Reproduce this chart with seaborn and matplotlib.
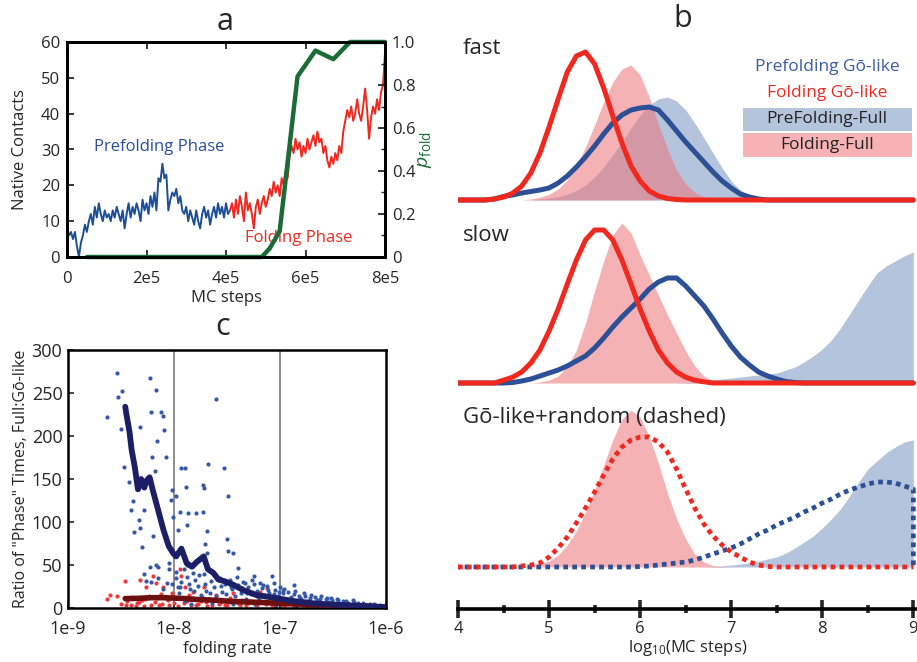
import numpy as np
import matplotlib
matplotlib.use("Agg")
import matplotlib.pyplot as plt
from matplotlib.patches import Rectangle
import seaborn as sns

sns.set_theme(style="ticks")
plt.rcParams["font.family"] = ["Open Sans", "DejaVu Sans"]
plt.rcParams["mathtext.fontset"] = "custom"
plt.rcParams["mathtext.rm"] = "Open Sans"
plt.rcParams["mathtext.it"] = "Open Sans:italic"

# ---------------- data: panel a ----------------
step_a = 5000
t0_pre = 0
contacts_pre = [8, 6, 7, 5, 7, 3, 0, 4, 6, 9, 7, 10, 12, 9, 14, 11, 15, 12, 10, 13,
                11, 12, 10, 13, 11, 14, 12, 10, 13, 8, 12, 15, 11, 14, 12, 15, 13, 10, 16, 13,
                15, 12, 17, 14, 18, 13, 22, 21, 26, 22, 23, 13, 16, 18, 17, 19, 15, 17, 13, 12,
                14, 10, 13, 11, 9, 13, 10, 8, 12, 14, 11, 13, 9, 12, 14, 11, 15, 12, 14, 11,
                15, 12, 13]
t0_fold = 410000
contacts_fold = [13, 15, 11, 16, 12, 17, 14, 10, 18, 13, 15, 12, 8, 14, 16, 12, 15, 17, 14, 16,
                 19, 17, 21, 18, 20, 17, 22, 20, 24, 22, 28, 31, 29, 33, 30, 32, 28, 31, 29, 33,
                 30, 32, 34, 31, 35, 32, 33, 29, 31, 27, 25, 28, 26, 29, 27, 31, 29, 35, 38, 41,
                 39, 42, 38, 40, 44, 40, 38, 42, 47, 41, 33, 39, 42, 40, 44, 41, 46, 48, 57]
pfold_steps = [50000, 490000, 510000, 535000, 580000, 625000, 670000, 712000, 800000]
pfold = [0, 0, 0.04, 0.12, 0.84, 0.96, 0.92, 1.0, 1.0]
a_xticks = [0, 200000, 400000, 600000, 800000]
a_xticklabels = ["0", "2e5", "4e5", "6e5", "8e5"]

# ---------------- data: panel b (heights, arbitrary units) ----------------
b_step = 0.1
fast_fold_go = (4.4, [1, 2.9, 6.8, 14, 27, 47, 73, 101, 128, 144, 148, 136, 112, 84, 57, 34, 19, 9, 4, 1.5, 0.5])
fast_fold_full = (4.8, [1.2, 2.7, 5.7, 11, 20, 34, 53, 75, 98, 118, 131, 135, 125, 103, 76, 51, 30, 16, 7.6, 3.2, 1.2, 0.4])
fast_pre_full = (4.9, [1, 1.8, 3.3, 5.8, 9.6, 15, 23, 33, 45, 58, 72, 85, 95, 101, 103, 99, 90, 77, 62, 47, 32, 19, 10, 4, 1.5, 0.5])
fast_pre_go = (4.4, [1, 3.5, 5, 7, 8.5, 10, 12, 17, 24, 33, 43, 54, 66, 77, 85, 90, 92, 93, 90, 80, 69, 58, 48, 38, 28, 19, 12, 6, 3, 1])

slow_fold_go = (4.5, [2.8, 5.8, 11, 20, 33, 52, 74, 99, 123, 143, 153, 153, 143, 123, 99, 74, 52, 33, 20, 11, 5.8, 2.8, 1.2])
slow_fold_full = (4.9, [1, 3, 7, 17, 33, 60, 92, 122, 148, 160, 150, 128, 108, 88, 68, 50, 32, 17, 7, 2, 0.5])
slow_pre_go = (4.6, [0.5, 2, 4, 7, 10, 13, 17, 22, 27, 35, 45, 56, 66, 75, 84, 94, 101, 105, 105, 97, 87, 77, 64, 50, 37, 26, 18, 11, 7, 4, 1.5, 0.5])
slow_pre_full = (6.5, [0.5, 1, 2, 3, 4, 5, 6, 7, 8, 9, 10, 13, 16, 21, 27, 34, 43, 55, 69, 83, 97, 110, 117, 122, 127, 131])

rand_fold_full = (4.8, [1, 3, 6, 12, 22, 36, 55, 77, 102, 127, 148, 157, 150, 130, 104, 74, 48, 28, 13, 5, 1.5, 0.5])
rand_fold_go = (4.7, [1, 2, 4, 10, 19, 30, 44, 59, 75, 92, 108, 120, 127, 130, 130, 125, 115, 98, 78, 59, 43, 31, 22, 15, 10, 5, 2, 0.5])
rand_pre_go = (6.0, [0.5, 1, 2, 3, 4, 5, 7, 10, 13, 16, 19, 23, 28, 33, 37, 42, 46, 50, 55, 59, 64, 68, 73, 77, 80, 83, 85, 85, 84, 81, 78])
rand_pre_full = (6.8, [0.5, 1, 2, 3, 4, 6, 8, 10, 14, 19, 25, 31, 39, 48, 58, 71, 85, 98, 106, 114, 120, 125, 127])

b_ticks = [4, 5, 6, 7, 8, 9]

# ---------------- data: panel c (log10 folding rate, ratio) ----------------
pre_lx = [-8.63, -8.54, -8.53, -8.49, -8.50, -8.47, -8.42, -8.41, -8.39, -8.38, -8.32, -8.32, -8.33, -8.30,
          -8.28, -8.26, -8.23, -8.22, -8.21, -8.20, -8.17, -8.18, -8.16, -8.17, -8.12, -8.10, -8.09, -8.08,
          -8.15, -8.05, -8.02, -8.03, -8.01, -7.98, -7.96, -7.94, -7.93, -7.90, -7.88, -7.89, -7.87, -7.79,
          -7.73, -7.72, -7.73, -7.69, -7.68, -7.71, -7.74, -7.69, -7.60, -7.53, -7.49, -7.50, -7.49, -7.44,
          -7.40, -7.33, -7.25, -7.19, -7.08, -7.06, -6.97, -6.87, -7.88, -7.82, -7.98, -7.94, -8.23, -8.26,
          -8.07, -8.28, -8.22, -8.15, -8.10, -8.05, -8.02,
          -7.98, -7.95, -7.93, -7.90, -7.88, -7.85, -7.82, -7.80, -7.77, -7.75, -7.72, -7.70, -7.67, -7.65,
          -7.62, -7.60, -7.57, -7.55, -7.52, -7.50, -7.47, -7.45, -7.42, -7.40, -7.37, -7.35, -7.32, -7.30,
          -7.27, -7.25, -7.22, -7.20, -7.17, -7.15, -7.12, -7.10, -7.07, -7.05, -7.02, -7.00, -6.97, -6.95,
          -6.92, -6.90, -6.87, -6.85, -6.82, -6.80, -6.77, -6.75, -6.72, -6.70, -6.67, -6.65, -6.62, -6.60,
          -6.57, -6.55, -6.52, -6.50, -6.45, -6.42, -6.38, -6.35, -6.30, -6.27, -6.22, -6.18, -6.15, -6.10,
          -6.05, -6.02,
          -7.96, -7.91, -7.86, -7.81, -7.76, -7.71, -7.66, -7.61, -7.56, -7.51, -7.46, -7.41, -7.36, -7.31,
          -7.26, -7.21, -7.16, -7.11, -7.06, -7.01, -6.96, -6.91, -6.86, -6.81, -6.76, -6.71, -6.66, -6.61,
          -6.56, -6.51, -6.46, -6.41, -6.36, -6.31, -6.26, -6.21, -6.16, -6.11, -6.06, -7.44, -7.24, -7.04,
          -6.84, -6.64, -7.64, -7.84]
pre_ratio = [222, 273, 245, 252, 208, 164, 147, 114, 125, 88, 93, 211, 102, 71,
             114, 145, 268, 228, 176, 84, 254, 159, 194, 50, 228, 223, 207, 176,
             48, 52, 137, 126, 106, 130, 91, 112, 163, 163, 97, 141, 110, 110,
             143, 139, 112, 89, 168, 75, 58, 64, 243, 163, 130, 80, 66, 64,
             46, 29, 37, 29, 37, 29, 21, 27, 50, 41, 35, 25, 48, 31,
             29, 40, 30, 35, 22, 45, 28,
             42, 18, 30, 8, 36, 22, 12, 33, 26, 15, 40, 20, 10, 31,
             24, 14, 35, 19, 28, 9, 33, 22, 14, 27, 18, 30, 11, 24,
             16, 28, 20, 9, 23, 15, 26, 18, 11, 21, 14, 24, 17, 9,
             19, 13, 16, 7, 14, 10, 17, 8, 12, 6, 13, 9, 11, 5,
             10, 7, 12, 6, 9, 5, 8, 4, 7, 4, 6, 3, 5, 3,
             2, 2,
             25, 45, 28, 20, 38, 28, 17, 37, 26, 16, 25, 36, 23, 17,
             32, 13, 27, 21, 16, 19, 22, 10, 20, 12, 14, 15, 7, 14,
             12, 9, 11, 8, 6, 9, 6, 4, 4, 5, 3, 5, 5, 4,
             3, 3, 6, 5]
fold_lx = [-8.63, -8.60, -8.54, -8.50, -8.46, -8.44, -8.41, -8.38, -8.35, -8.32, -8.30, -8.28, -8.26, -8.24,
           -8.20, -8.18, -8.17, -8.14, -8.12, -8.10, -8.07, -8.05, -8.02, -8.00, -7.97, -7.94, -7.93, -7.90,
           -7.88, -7.86, -7.84, -7.82, -7.80, -7.77, -7.74, -7.72, -7.70, -7.67, -7.64, -7.60, -7.57, -7.54,
           -7.50, -7.47, -7.44, -7.40, -7.36, -7.32, -7.28, -7.24, -7.19, -7.15, -7.12, -7.08, -7.03, -6.98,
           -6.92, -6.85, -6.78, -6.70, -6.60, -6.50,
           -8.45, -8.40, -8.36, -8.33, -8.27, -8.22, -8.16, -8.11, -8.06, -8.01, -7.96, -7.91, -7.85, -7.79,
           -7.75, -7.69, -7.63, -7.58, -7.52, -7.46, -7.38, -7.30, -7.22, -7.13, -7.05, -6.95, -6.88, -6.75,
           -6.65, -6.40, -6.20]
fold_ratio = [10, 15, 14, 5, 31, 8, 3, 12, 6, 33, 9, 2, 25, 14,
              37, 7, 29, 4, 16, 25, 10, 3, 18, 6, 12, 45, 37, 25,
              8, 15, 3, 19, 10, 5, 13, 25, 7, 11, 3, 15, 6, 9,
              4, 12, 17, 6, 9, 3, 8, 5, 19, 7, 23, 4, 6, 3,
              5, 2, 4, 2, 3, 2,
              4, 13, 2, 7, 10, 3, 12, 5, 9, 14, 2, 6, 11, 4,
              8, 2, 9, 5, 3, 7, 4, 6, 3, 5, 2, 4, 3, 2,
              1, 1, 1]
pre_avg_lx = [-8.46, -8.45, -8.42, -8.40, -8.37, -8.34, -8.31, -8.28, -8.26, -8.23, -8.20, -8.15, -8.10,
              -8.05, -8.01, -7.98, -7.93, -7.88, -7.83, -7.79, -7.72, -7.68, -7.63, -7.58, -7.52, -7.44,
              -7.35, -7.22, -7.06, -6.87, -6.65, -6.34, -6.00]
pre_avg = [234, 226, 205, 184, 164, 138, 150, 140, 148, 152, 137, 114, 91,
           72, 64, 60, 69, 52, 48, 53, 60, 45, 41, 33, 31, 27,
           21, 15, 12, 8, 5, 3, 1]
fold_avg_lx = [-8.46, -8.40, -8.30, -8.20, -8.10, -8.00, -7.90, -7.80, -7.70, -7.60, -7.50, -7.40, -7.30,
               -7.20, -7.10, -7.00, -6.90, -6.80, -6.70, -6.60, -6.40, -6.30, -6.20, -6.10, -6.00]
fold_avg = [11, 11, 11.5, 12, 12, 11.5, 11, 10, 9.5, 9, 8, 7.5, 7, 6.5, 6, 5.5, 5, 4.5, 4, 3.5, 3, 2.5, 2, 1.5, 1]
c_xticks = [1e-9, 1e-8, 1e-7, 1e-6]
c_xticklabels = ["1e-9", "1e-8", "1e-7", "1e-6"]

# ---------------- colours ----------------
BLUE = "#1d4e97"
RED = "#f0281e"
GREEN = "#1a6b36"
BLUE_LINE = "#2c4f96"
BLUE_FILL = "#b4c4dc"
PINK = "#ee7378"
NAVY = "#1c1f66"
DARKRED = "#6e0f10"

W, H = 917, 662


def rect(l, t, r, b):
    return [l / W, 1 - b / H, (r - l) / W, (b - t) / H]


fig = plt.figure(figsize=(W / 100, H / 100), dpi=100)

# ======================= panel a =======================
axA = fig.add_axes(rect(67, 42, 385, 257))
t_pre = t0_pre + step_a * np.arange(len(contacts_pre))
t_fold = t0_fold + step_a * np.arange(len(contacts_fold))
sns.lineplot(x=t_pre, y=contacts_pre, ax=axA, color=BLUE, lw=1.4, estimator=None, sort=False)
sns.lineplot(x=t_fold, y=contacts_fold, ax=axA, color=RED, lw=1.4, estimator=None, sort=False)
axA.set_xlim(0, 800000)
axA.set_ylim(0, 60)
axA.set_xticks(a_xticks)
axA.set_xticklabels(a_xticklabels)
axA.set_yticks(range(0, 61, 10))
axA.set_xlabel("MC steps", fontsize=12, labelpad=2)
axA.set_ylabel("Native Contacts", fontsize=12, labelpad=9)
axA.tick_params(direction="in", length=5, width=1.3, labelsize=12, top=True)
axA.tick_params(axis="x", pad=10)
axA.tick_params(axis="y", pad=5)
for s in axA.spines.values():
    s.set_linewidth(2.0)
    s.set_color("black")
axA2 = axA.twinx()
sns.lineplot(x=pfold_steps, y=pfold, ax=axA2, color=GREEN, lw=3.2, estimator=None, sort=False, clip_on=False)
axA2.set_ylim(0, 1)
axA2.set_yticks([0, 0.2, 0.4, 0.6, 0.8, 1.0])
axA2.set_yticklabels(["0", "0.2", "0.4", "0.6", "0.8", "1.0"])
axA2.set_yticks([0.1, 0.3, 0.5, 0.7, 0.9], minor=True)
axA2.tick_params(direction="in", length=5, width=1.3, labelsize=12, pad=5)
axA2.tick_params(which="minor", direction="in", length=3, width=1.0)
axA2.set_ylabel(r"$p_{\mathrm{fold}}$", color=GREEN, fontsize=14, labelpad=0)
for s in axA2.spines.values():
    s.set_linewidth(2.0)
    s.set_color("black")
axA.text(0.29, 0.51, "Prefolding Phase", transform=axA.transAxes, color="#2a4e99", fontsize=12,
         ha="center", va="center")
axA.text(0.73, 0.09, "Folding Phase", transform=axA.transAxes, color=RED, fontsize=12,
         ha="center", va="center")
fig.text(225 / W, 1 - 22 / H, "a", fontsize=22, ha="center", va="center")

# ======================= panel b =======================
b_x = np.round(np.arange(4.0, 9.0 + b_step / 2, b_step), 1)


def pad(curve):
    start, vals = curve
    y = np.zeros(len(b_x))
    i0 = int(round((start - 4.0) / b_step))
    y[i0:i0 + len(vals)] = vals
    return y


XMAX = 9.04


def sub_axes(top, bottom):
    ax = fig.add_axes(rect(458, top, 917, bottom))
    ax.set_xlim(4, XMAX)
    ax.set_ylim(-10, bottom - top - 10)
    ax.axis("off")
    return ax


axF = sub_axes(30, 210)
axF.fill_between(b_x, 0, pad(fast_pre_full), color=BLUE_FILL, lw=0)
sns.lineplot(x=b_x, y=pad(fast_pre_go), ax=axF, color=BLUE_LINE, lw=3.6, estimator=None, sort=False)
axF.fill_between(b_x, 0, pad(fast_fold_full), color=PINK, alpha=0.55, lw=0)
sns.lineplot(x=b_x, y=pad(fast_fold_go), ax=axF, color=RED, lw=3.6, estimator=None, sort=False,
             solid_capstyle="round")

axS = sub_axes(213, 393)
axS.fill_between(b_x, 0, pad(slow_pre_full), color=BLUE_FILL, lw=0)
sns.lineplot(x=b_x, y=pad(slow_pre_go), ax=axS, color=BLUE_LINE, lw=3.6, estimator=None, sort=False)
axS.fill_between(b_x, 0, pad(slow_fold_full), color=PINK, alpha=0.55, lw=0)
sns.lineplot(x=b_x, y=pad(slow_fold_go), ax=axS, color=RED, lw=3.6, estimator=None, sort=False,
             solid_capstyle="round")

axR = sub_axes(396, 577)
axR.fill_between(b_x, 0, pad(rand_pre_full), color=BLUE_FILL, lw=0)
axR.fill_between(b_x, 0, pad(rand_fold_full), color=PINK, alpha=0.55, lw=0)
rp_x = np.append(b_x, b_x[-1])
rp_y = np.append(pad(rand_pre_go), 0)
sns.lineplot(x=rp_x, y=rp_y, ax=axR, color=BLUE_LINE, lw=3.4, estimator=None, sort=False,
             linestyle=(0.5, (1, 0.9)), dash_capstyle="butt")
sns.lineplot(x=b_x, y=pad(rand_fold_go), ax=axR, color=RED, lw=3.4, estimator=None, sort=False,
             linestyle=(0, (1, 0.9)), dash_capstyle="butt")

axB = fig.add_axes(rect(458, 604, 917, 609))
axB.set_xlim(4, XMAX)
axB.set_yticks([])
for k in ["left", "right", "top"]:
    axB.spines[k].set_visible(False)
axB.patch.set_alpha(0)
axB.spines["bottom"].set_linewidth(2.6)
axB.spines["bottom"].set_color("black")
axB.spines["bottom"].set_bounds(4, XMAX)
axB.set_xticks(b_ticks)
axB.set_xticks([4.5, 5.5, 6.5, 7.5, 8.5], minor=True)
axB.tick_params(axis="x", which="major", direction="inout", length=13, width=2.6, labelsize=12, pad=2)
axB.tick_params(axis="x", which="minor", direction="inout", length=6, width=2.6)
axB.set_xlabel(r"log$_{10}$(MC steps)", fontsize=12, labelpad=1)

fig.text(683 / W, 1 - 19 / H, "b", fontsize=22, ha="center", va="center")
fig.text(463 / W, 1 - 48 / H, "fast", fontsize=16, ha="left", va="center")
fig.text(463 / W, 1 - 236 / H, "slow", fontsize=16, ha="left", va="center")
fig.text(463 / W, 1 - 418 / H, "Gō-like+random (dashed)", fontsize=16, ha="left", va="center")

fig.text(827 / W, 1 - 67 / H, "Prefolding Gō-like", fontsize=12.5, color="#3a5aa0", ha="center", va="center")
fig.text(827 / W, 1 - 93 / H, "Folding Gō-like", fontsize=12.5, color=RED, ha="center", va="center")
fig.add_artist(Rectangle((743 / W, 1 - 131 / H), 169 / W, 23 / H, transform=fig.transFigure,
                         color=BLUE_FILL, lw=0))
fig.add_artist(Rectangle((743 / W, 1 - 157 / H), 169 / W, 24 / H, transform=fig.transFigure,
                         color="#f6b2b5", lw=0))
fig.text(827 / W, 1 - 119 / H, "PreFolding-Full", fontsize=12.5, color="#222222", ha="center", va="center")
fig.text(827 / W, 1 - 145 / H, "Folding-Full", fontsize=12.5, color="#222222", ha="center", va="center")

# ======================= panel c =======================
axC = fig.add_axes(rect(68, 350, 386, 608))
axC.set_xscale("log")
axC.axvline(1e-8, color="#7a7a7a", lw=1.2, zorder=0)
axC.axvline(1e-7, color="#7a7a7a", lw=1.2, zorder=0)
sns.scatterplot(x=10 ** np.array(fold_lx), y=fold_ratio, ax=axC, s=9, color="#f03838", linewidth=0, zorder=2)
sns.scatterplot(x=10 ** np.array(pre_lx), y=pre_ratio, ax=axC, s=9, color="#3559a8", linewidth=0, zorder=2)
sns.lineplot(x=10 ** np.array(fold_avg_lx), y=fold_avg, ax=axC, color=DARKRED, lw=4.0, estimator=None,
             sort=False, zorder=3)
sns.lineplot(x=10 ** np.array(pre_avg_lx), y=pre_avg, ax=axC, color=NAVY, lw=4.2, estimator=None,
             sort=False, zorder=3)
axC.set_xlim(1e-9, 1e-6)
axC.set_ylim(0, 300)
axC.set_xticks(c_xticks)
axC.set_xticklabels(c_xticklabels)
axC.xaxis.set_minor_locator(matplotlib.ticker.NullLocator())
axC.set_yticks(range(0, 301, 50))
axC.tick_params(direction="in", length=4, width=1.2, labelsize=13)
axC.tick_params(axis="x", pad=9)
axC.tick_params(axis="y", pad=4)
axC.set_xlabel("folding rate", fontsize=12, labelpad=2)
axC.set_ylabel("Ratio of \"Phase\" Times, Full:Gō-like", fontsize=11.5, labelpad=2)
for s in axC.spines.values():
    s.set_linewidth(1.8)
    s.set_color("black")
fig.text(223 / W, 1 - 327 / H, "c", fontsize=22, ha="center", va="center")

fig.savefig("out.png", dpi=100)
